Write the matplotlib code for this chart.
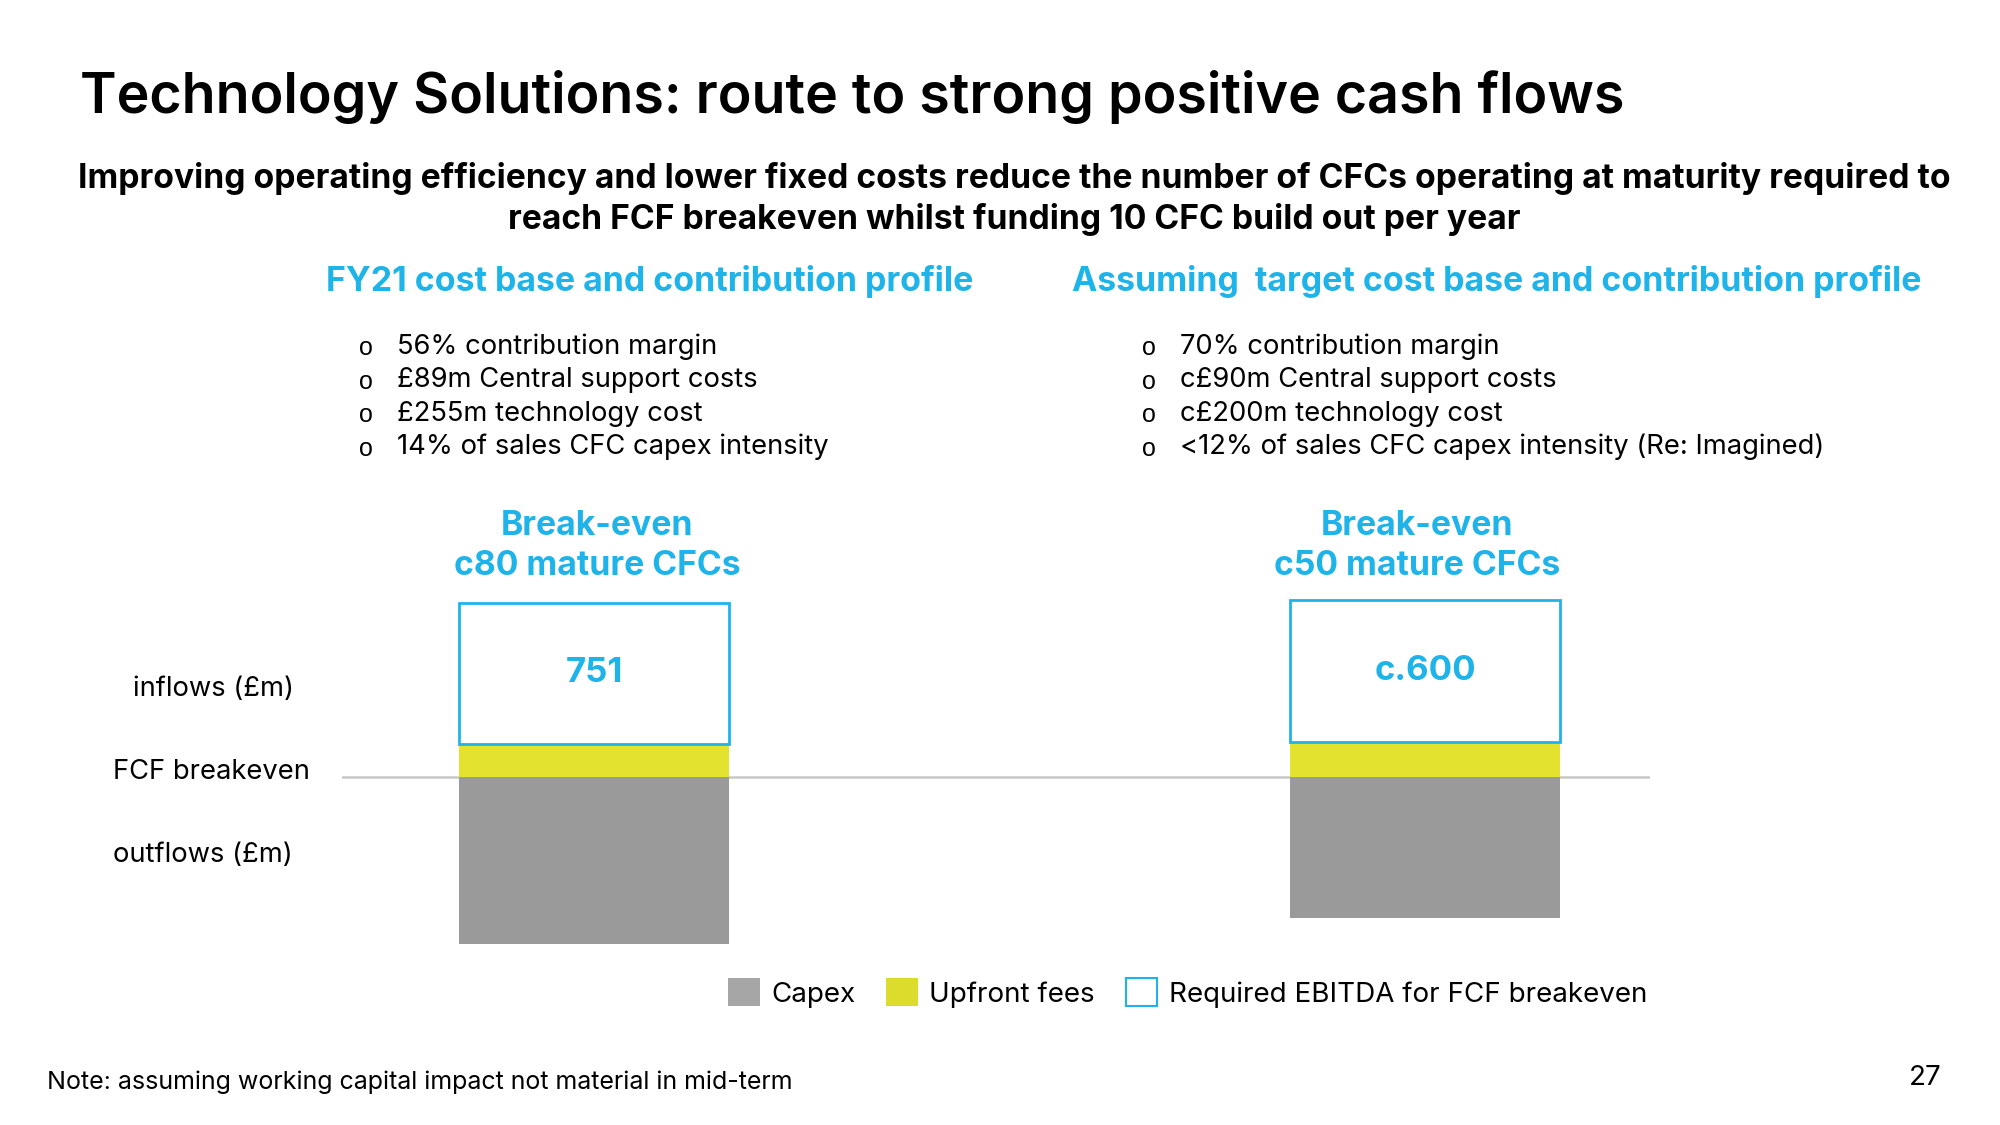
"""Technology Solutions: FCF breakeven stacked bars."""

import matplotlib
matplotlib.use("Agg")
import matplotlib.pyplot as plt
from matplotlib.patches import Patch

# ---- data -------------------------------------------------------------
scenarios = ["FY21", "Target"]
capex = [-1390, -1175]          # outflows, chart units
upfront_fees = [275, 290]       # inflows stacked on the breakeven line
required_ebitda = [1175, 1185]  # box height above the fees
ebitda_labels = ["751", "c.600"]

headings = ["FY21 cost base and contribution profile",
            "Assuming  target cost base and contribution profile"]
bullets = [
    ["56% contribution margin",
     "£89m Central support costs",
     "£255m technology cost",
     "14% of sales CFC capex intensity"],
    ["70% contribution margin",
     "c£90m Central support costs",
     "c£200m technology cost",
     "<12% of sales CFC capex intensity (Re: Imagined)"],
]
breakeven_text = ["Break-even\nc80 mature CFCs", "Break-even\nc50 mature CFCs"]
row_labels = ["inflows (£m)", "FCF breakeven", "outflows (£m)"]

BLUE = "#1eb4ea"
GREY = "#9a9a9a"
YELLOW = "#e3e22e"

plt.rcParams["font.family"] = ["Inter", "DejaVu Sans"]

W, H = 2000, 1125
fig = plt.figure(figsize=(W / 100, H / 100), dpi=100)


def px(x, y):
    return x / W, 1 - y / H


# ---- texts ------------------------------------------------------------
fig.text(*px(80, 97), "Technology Solutions: route to strong positive cash flows",
         fontsize=40, fontweight="semibold", va="center", ha="left")
fig.text(*px(1014, 199),
         "Improving operating efficiency and lower fixed costs reduce the number of CFCs "
         "operating at maturity required to\nreach FCF breakeven whilst funding 10 CFC "
         "build out per year",
         fontsize=24.2, fontweight="bold", va="center", ha="center", linespacing=1.27)

for hx, head in zip([650, 1497], headings):
    fig.text(*px(hx, 282), head, fontsize=24.4, fontweight="bold", color=BLUE,
             ha="center", va="center")

for (mx, tx), items in zip([(366, 397), (1149, 1180)], bullets):
    for k, item in enumerate(items):
        y = 346.5 + k * 33.5
        fig.text(*px(mx, y + 2), "o", fontsize=18, family="Liberation Sans",
                 ha="center", va="center")
        fig.text(*px(tx, y), item, fontsize=19.7, ha="left", va="center")

for bx, txt in zip([597, 1417], breakeven_text):
    fig.text(*px(bx, 546), txt, fontsize=24.3, fontweight="bold", color=BLUE,
             ha="center", va="center", linespacing=1.29)

for (lx, ly), lab in zip([(133, 689), (113, 772), (113, 855)], row_labels):
    fig.text(*px(lx, ly), lab, fontsize=19.7, ha="left", va="center")

fig.text(*px(47, 1082), "Note: assuming working capital impact not material in mid-term",
         fontsize=18, ha="left", va="center")
fig.text(*px(1942, 1078), "27", fontsize=20, ha="right", va="center")

# ---- bars -------------------------------------------------------------
ax_l, ax_r, ax_t, ax_b = 342, 1650, 590, 960
ax = fig.add_axes([ax_l / W, 1 - ax_b / H, (ax_r - ax_l) / W, (ax_b - ax_t) / H])
ax.set_xlim(-0.3033, 1.2708)
ax.set_ylim(-1525, 1558)
ax.axis("off")

xs = range(len(scenarios))
bar_w = 0.325
ax.axhline(0, color="#c8c8c8", lw=1.8, zorder=1)
ax.bar(xs, capex, width=bar_w, color=GREY, zorder=2)
ax.bar(xs, upfront_fees, width=bar_w, color=YELLOW, zorder=2)
ax.bar(xs, required_ebitda, width=bar_w, bottom=upfront_fees, color="white",
       edgecolor=BLUE, linewidth=2, zorder=3)
for x, fee, box, lab in zip(xs, upfront_fees, required_ebitda, ebitda_labels):
    ax.text(x, fee + box / 2, lab, fontsize=25, fontweight="bold", color=BLUE,
            ha="center", va="center", zorder=4)

handles = [Patch(facecolor="#a6a6a6", edgecolor="none", label="Capex"),
           Patch(facecolor="#dcdc2c", edgecolor="none", label="Upfront fees"),
           Patch(facecolor="white", edgecolor=BLUE, linewidth=1.5,
                 label="Required EBITDA for FCF breakeven")]
fig.legend(handles=handles, loc="center left", bbox_to_anchor=px(728, 993),
           ncol=3, frameon=False, fontsize=20, handlelength=1.15, handleheight=1.15,
           handletextpad=0.41, columnspacing=1.1, borderpad=0, borderaxespad=0)

fig.savefig("out.png", dpi=100)
